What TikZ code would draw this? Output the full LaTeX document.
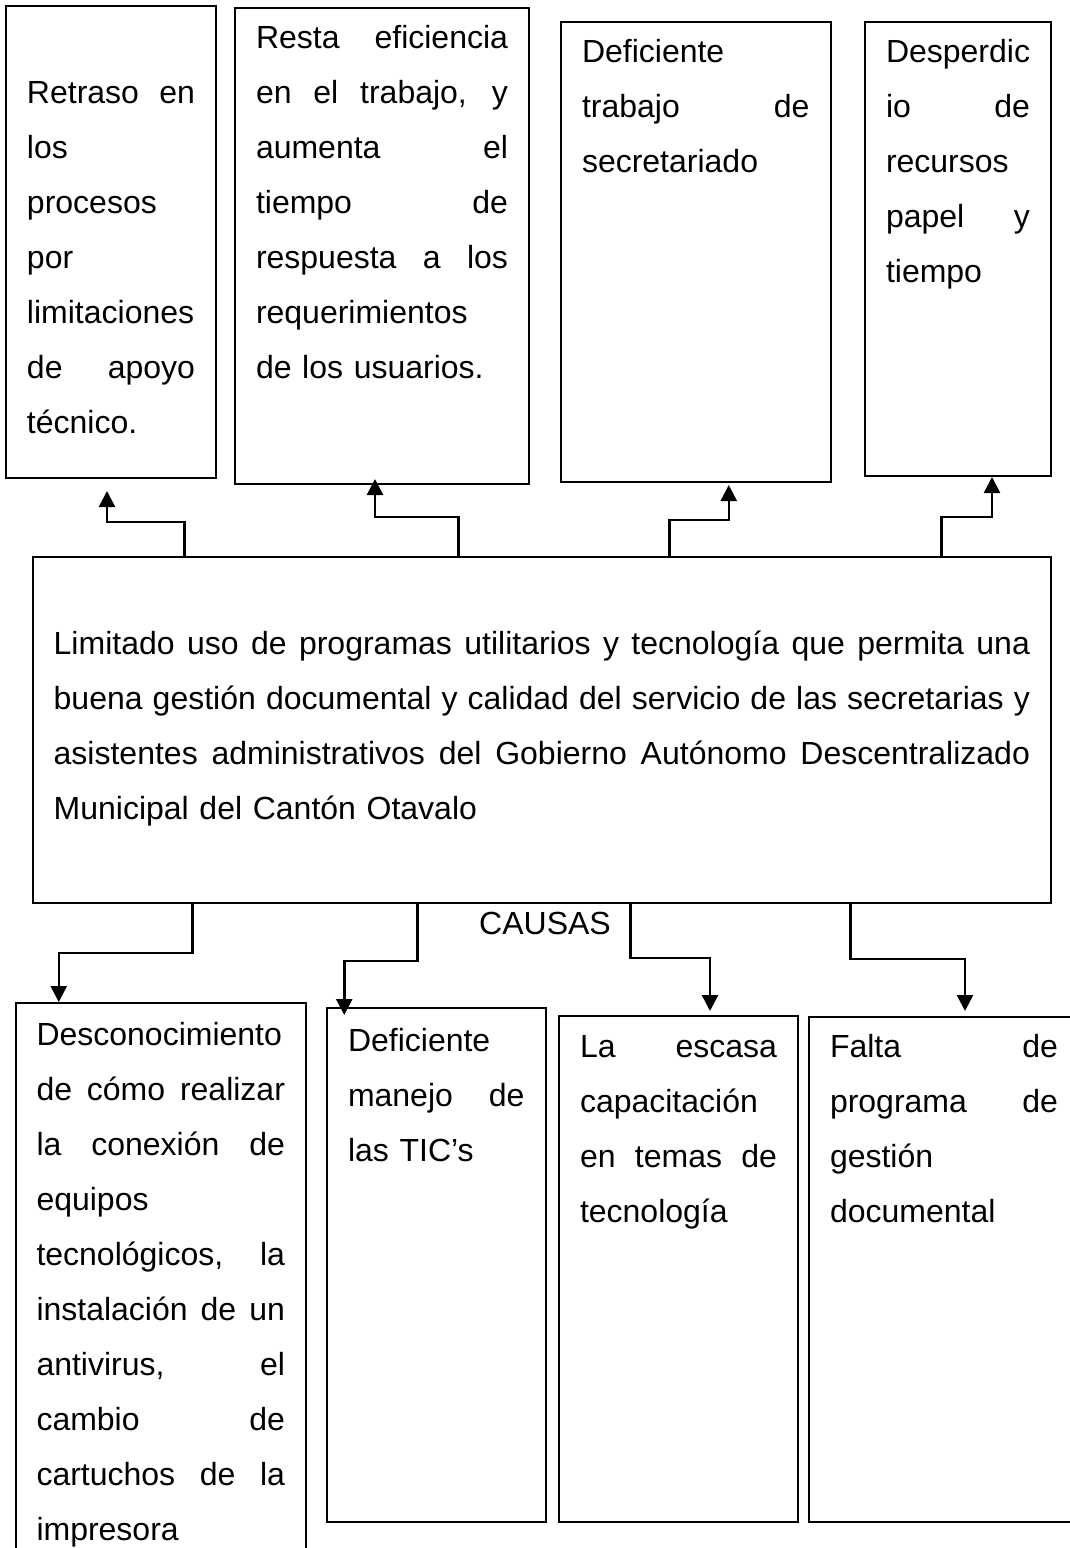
\documentclass[tikz,border=0pt]{standalone}
\usepackage{fontspec}
\setmainfont{Liberation Sans}
\usetikzlibrary{arrows.meta}

\hyphenpenalty=10000
\exhyphenpenalty=10000
% linea justificada: los espacios se estiran hasta llenar el ancho
\newcommand\jl[1]{\leavevmode\hbox to\linewidth{\spaceskip=.278em plus 1fill minus .1em\relax#1}}

\begin{document}
\begin{tikzpicture}[
    x=1pt, y=-1pt,
    % Estilos de los nodos
    caja/.style={draw=black, line width=2pt, anchor=north west, outer sep=0pt, inner xsep=21pt, inner ysep=0pt, align=left, font=\fontsize{32}{55}\selectfont},
    etiqueta/.style={inner sep=0pt, font=\fontsize{32}{55}\selectfont},
    flecha/.style={line width=2.5pt, -{Triangle[length=16pt, width=16pt]}}
]
    \useasboundingbox (0,0) rectangle (1070,1548);
    \fill[white] (0,0) rectangle (1070,1548);
    \clip (0,0) rectangle (1070,1548);

    % ==================== EFECTOS ====================
    \node[caja, text width=168pt, text height=97pt, text depth=375pt] (e1) at (6,6)
        {\jl{Retraso en}\\los\\procesos\\por\\limitaciones\\\jl{de apoyo}\\técnico.};
    \node[caja, text width=252pt, text height=40.5pt, text depth=435.5pt] (e2) at (235,8)
        {\jl{Resta eficiencia}\\\jl{en el trabajo, y}\\\jl{aumenta el}\\\jl{tiempo de}\\\jl{respuesta a los}\\requerimientos\\de los usuarios.};
    \node[caja, text width=227.5pt, text height=40.5pt, text depth=419.5pt] (e3) at (561,22)
        {Deficiente\\\jl{trabajo de}\\secretariado};
    \node[caja, text width=144pt, text height=40.5pt, text depth=413.5pt] (e4) at (865,22)
        {Desperdic\\\jl{io de}\\recursos\\\jl{papel y}\\tiempo};

    % ==================== PROBLEMA ====================
    \node[caja, text width=976.3pt, text height=97pt, text depth=249pt] (prob) at (32.7,557)
        {\jl{Limitado uso de programas utilitarios y tecnología que permita una}\\\jl{buena gestión documental y calidad del servicio de las secretarias y}\\\jl{asistentes administrativos del Gobierno Autónomo Descentralizado}\\Municipal del Cantón Otavalo};

    % Flechas hacia los efectos
    \draw[flecha] ([xshift=152pt]prob.north west) -- ++(0,-35) -| ([xshift=-4pt, yshift=-13pt]e1.south);
    \draw[flecha] ([xshift=426pt]prob.north west) -- ++(0,-40) -| ([xshift=-7pt, yshift=5pt]e2.south);
    \draw[flecha] ([xshift=637pt]prob.north west) -- ++(0,-37) -| ([xshift=33pt, yshift=-3pt]e3.south);
    \draw[flecha] ([xshift=909pt]prob.north west) -- ++(0,-40) -| ([xshift=34pt, yshift=-1pt]e4.south);

    \node[etiqueta, anchor=base east] (causas) at (611,934) {CAUSAS};

    % ==================== CAUSAS ====================
    \node[caja, text width=248.5pt, text height=42.6pt, text depth=514pt] (c1) at (15.5,1003)
        {Desconocimiento\\\jl{de cómo realizar}\\\jl{la conexión de}\\equipos\\\jl{tecnológicos, la}\\\jl{instalación de un}\\\jl{antivirus, el}\\\jl{cambio de}\\\jl{cartuchos de la}\\impresora};
    \node[caja, text width=176.5pt, text height=43pt, text depth=471pt] (c2) at (327,1008)
        {Deficiente\\\jl{manejo de}\\las TIC’s};
    \node[caja, text width=197pt, text height=41pt, text depth=465pt] (c3) at (559,1016)
        {\jl{La escasa}\\capacitación\\\jl{en temas de}\\tecnología};
    \node[caja, text width=228pt, text height=40pt, text depth=465pt] (c4) at (809,1017)
        {\jl{Falta de}\\\jl{programa de}\\gestión\\documental};

    % Flechas hacia las causas
    \draw[flecha] ([xshift=160pt]prob.south west) -- ++(0,50) -| ([xshift=-102pt, yshift=1pt]c1.north);
    \draw[flecha] ([xshift=385pt]prob.south west) -- ++(0,58) -| ([xshift=-92pt, yshift=-7pt]c2.north);
    \draw[flecha] ([xshift=598pt]prob.south west) -- ++(0,55) -| ([xshift=31.5pt, yshift=5pt]c3.north);
    \draw[flecha] ([xshift=818pt]prob.south west) -- ++(0,56) -| ([xshift=21pt, yshift=6pt]c4.north);

\end{tikzpicture}
\end{document}
